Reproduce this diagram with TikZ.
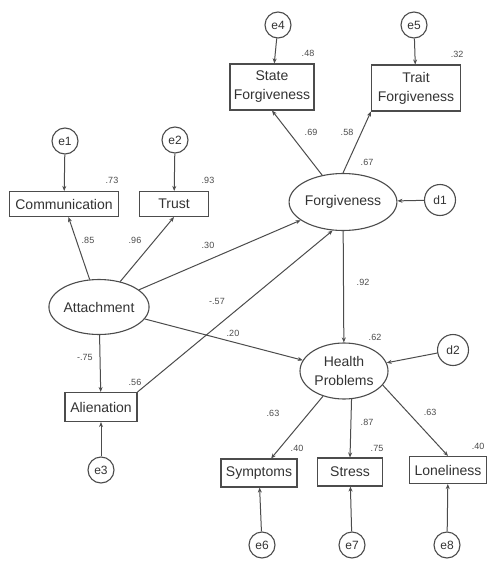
\documentclass[tikz,border=0pt]{standalone}
\usepackage{fontspec}
\setmainfont{Liberation Sans}
\usetikzlibrary{arrows.meta, shapes.geometric}

\begin{document}
\begin{tikzpicture}[x=1pt, y=-1pt, line width=1pt,
  obs/.style={draw=black!70, line width=1.1pt, rectangle, inner sep=1pt, align=center,
    text=black!80, font=\fontsize{14}{19}\selectfont},
  lat/.style={draw=black!70, line width=1.1pt, ellipse, inner sep=0pt, align=center,
    text=black!80, font=\fontsize{14}{19}\selectfont},
  err/.style={draw=black!70, line width=1.1pt, circle, inner sep=0pt, minimum size=26pt,
    text=black!80, font=\fontsize{12}{12}\selectfont},
  coef/.style={text=black!70, inner sep=0pt, font=\fontsize{9}{9}\selectfont},
  path/.style={draw=black!70, -{Stealth[length=5pt, width=4pt]}}]
  \useasboundingbox[fill=white] (0,0) rectangle (487,562);

  % latent variables
  \node[lat, minimum width=85pt, minimum height=55pt] (att) at (99,307) {Attachment};
  \node[lat, minimum width=92pt, minimum height=57pt] (forg) at (343,202) {Forgiveness};
  \node[lat, minimum width=88pt, minimum height=56pt] (hp) at (344,371) {Health\\Problems};

  % observed variables
  \node[obs, minimum width=109pt, minimum height=25pt] (comm) at (64,204) {Communication};
  \node[obs, minimum width=69pt, minimum height=25pt] (trust) at (174,204) {Trust};
  \node[obs, minimum width=72pt, minimum height=29pt] (alien) at (101,407) {Alienation};
  \node[obs, minimum width=84pt, minimum height=46pt] (stfg) at (272,87) {State\\Forgiveness};
  \node[obs, minimum width=89pt, minimum height=46pt] (trfg) at (416,88) {Trait\\Forgiveness};
  \node[obs, minimum width=76pt, minimum height=28pt] (symp) at (259,473) {Symptoms};
  \node[obs, minimum width=65pt, minimum height=28pt] (stress) at (350,472) {Stress};
  \node[obs, minimum width=77pt, minimum height=27pt] (lone) at (448,470) {Loneliness};

  % error terms
  \foreach \n/\x/\y in {e1/65/141, e2/175/140, e3/101/470, e4/278/25, e5/414/25,
                        e6/262/545, e7/352/545, e8/447/545}{
    \node[err] (\n) at (\x,\y) {\n};
  }
  \node[err, minimum size=31pt] (d1) at (440,200) {d1};
  \node[err, minimum size=31pt] (d2) at (453,350) {d2};

  % paths
  \draw[path] (e1) -- (comm);
  \draw[path] (e2) -- (trust);
  \draw[path] (e3) -- (alien);
  \draw[path] (e4) -- (stfg);
  \draw[path] (e5) -- (trfg);
  \draw[path] (e6) -- (symp);
  \draw[path] (e7) -- (stress);
  \draw[path] (e8) -- (lone);
  \draw[path] (d1) -- (forg);
  \draw[path] (d2) -- (hp);
  \draw[path] (att) -- (comm);
  \draw[path] (att) -- (trust.south);
  \draw[path] (att) -- (alien);
  \draw[path] (att) -- (forg);
  \draw[path] (att) -- (hp);
  \draw[path] (alien.north east) -- (forg.250);
  \draw[path] (forg) -- (stfg.south);
  \draw[path] (forg.north) -- (trfg.south west);
  \draw[path] (forg) -- (hp);
  \draw[path] (hp) -- (symp);
  \draw[path] (hp.285) -- (stress.north);
  \draw[path] (hp.340) -- (lone.north);

  % estimates
  \foreach \t/\x/\y [count=\i] in {.73/112/180, .93/208/180, .85/88/240, .96/135/240,
      .30/208/245, -.57/217/301, .20/233/333, -.75/85/357, .56/135/382,
      .48/308/53, .32/457/54, .69/311/132, .58/347/132, .67/367/162,
      .92/363/282, .62/375/337, .63/273/413, .87/367/422, .63/430/412,
      .40/297/448, .75/377/448, .40/478/446}{
    \node[coef] (c\i) at (\x,\y) {\t};
  }
\end{tikzpicture}
\end{document}
